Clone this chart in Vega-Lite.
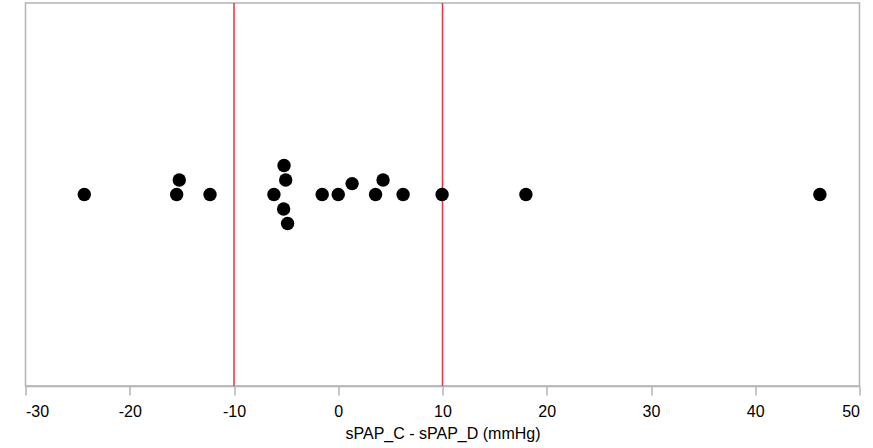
{
  "$schema": "https://vega.github.io/schema/vega-lite/v6.json",
  "width": 834,
  "height": 383,
  "autosize": {"type": "none"},
  "padding": {"left": 25.5, "top": 3, "right": 13.5, "bottom": 62},
  "background": "white",
  "config": {
    "view": {"stroke": "#b4b4b4", "strokeWidth": 1.5},
    "font": "Liberation Sans"
  },
  "data": {
    "values": [
      {"diff": -24.36, "jitter": 0},
      {"diff": -15.5, "jitter": 0},
      {"diff": -15.25, "jitter": 1},
      {"diff": -12.3, "jitter": 0},
      {"diff": -6.17, "jitter": 0},
      {"diff": -5.2, "jitter": 2},
      {"diff": -5.04, "jitter": 1},
      {"diff": -5.24, "jitter": -1},
      {"diff": -4.86, "jitter": -2},
      {"diff": -1.54, "jitter": 0},
      {"diff": 0.0, "jitter": 0},
      {"diff": 1.33, "jitter": 0.75},
      {"diff": 3.58, "jitter": 0},
      {"diff": 4.3, "jitter": 1},
      {"diff": 6.22, "jitter": 0},
      {"diff": 9.96, "jitter": 0},
      {"diff": 18.0, "jitter": 0},
      {"diff": 46.2, "jitter": 0}
    ]
  },
  "layer": [
    {
      "data": {"values": [{"limit": -10}, {"limit": 10}]},
      "mark": {"type": "rule", "color": "#e3343f", "strokeWidth": 1.5},
      "encoding": {
        "x": {"field": "limit", "type": "quantitative", "scale": {"domain": [-30, 50]}}
      }
    },
    {
      "mark": {"type": "circle", "size": 180, "color": "black", "opacity": 1},
      "encoding": {
        "x": {
          "field": "diff",
          "type": "quantitative",
          "scale": {"domain": [-30, 50], "nice": false, "zero": false},
          "axis": {
            "title": "sPAP_C - sPAP_D (mmHg)",
            "values": [-30, -20, -10, 0, 10, 20, 30, 40, 50],
            "labelExpr": "datum.value < 0 ? '-' + abs(datum.value) : '' + datum.value",
            "grid": false,
            "domainColor": "#b4b4b4",
            "domainWidth": 1.5,
            "tickColor": "#b4b4b4",
            "tickSize": 9,
            "tickWidth": 1.5,
            "labelFontSize": 16,
            "labelColor": "#000000",
            "labelPadding": 8,
            "titleFontSize": 16,
            "titleFontWeight": "normal",
            "titleColor": "#000000",
            "titlePadding": 6
          }
        },
        "y": {
          "field": "jitter",
          "type": "quantitative",
          "scale": {"domain": [-13.2, 13.2], "nice": false, "zero": false},
          "axis": null
        }
      }
    }
  ]
}
